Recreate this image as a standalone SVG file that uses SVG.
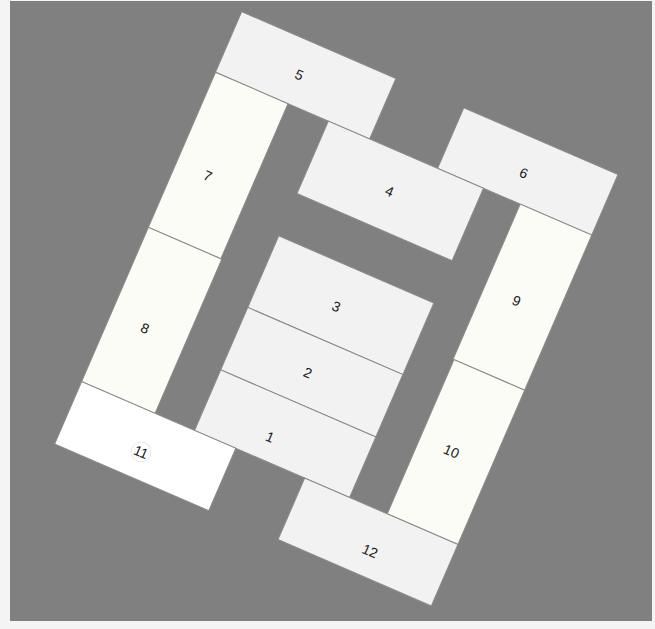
<svg xmlns="http://www.w3.org/2000/svg" width="655" height="629" viewBox="0 0 655 629">
<style>
.r{stroke:#8a8a8a;stroke-width:1}
.g{fill:#f2f2f2}
.c{fill:#fcfcf6}
.w{fill:#ffffff}
text{font-family:"Liberation Sans",Arial,sans-serif;font-size:14px;fill:#1a1a1a;text-anchor:middle;dominant-baseline:central}
</style>
<rect width="655" height="629" fill="#f4f4f4"/>
<rect x="10" y="1" width="642" height="620" fill="#808080"/>
<g transform="translate(241.7,11.7) rotate(23.4)">
  <g id="n5"><rect class="r g" x="0" y="0" width="168" height="66"/><text x="78" y="35">5</text></g>
  <g id="n6"><rect class="r g" x="242" y="0" width="168" height="66"/><text x="323" y="36">6</text></g>
  <g id="n7"><rect class="r c" x="0" y="66" width="79" height="169"/><text x="34" y="164">7</text></g>
  <g id="n8"><rect class="r c" x="0" y="235" width="80" height="168"/><text x="37" y="329">8</text></g>
  <g id="n9"><rect class="r c" x="332" y="66" width="78" height="169"/><text x="367" y="156">9</text></g>
  <g id="n10"><rect class="r c" x="333" y="235" width="77" height="168"/><text x="367" y="320">10</text></g>
  <g id="n4"><rect class="r g" x="123" y="66" width="169" height="79"/><text x="207" y="106">4</text></g>
  <g id="n3"><rect class="r g" x="123" y="191" width="169" height="78"/><text x="204" y="233">3</text></g>
  <g id="n2"><rect class="r g" x="123" y="269" width="169" height="68"/><text x="204" y="305">2</text></g>
  <g id="n1"><rect class="r g" x="123" y="337" width="169" height="66"/><text x="195" y="379">1</text></g>
  <g id="n11"><rect class="r w" x="0" y="403" width="168" height="68"/><circle cx="82.5" cy="444" r="10" fill="none" stroke="#e8e8e8" stroke-width="1"/><text x="82.5" y="444">11</text></g>
  <g id="n12"><rect class="r g" x="243" y="403" width="167" height="67"/><text x="332" y="444">12</text></g>
</g>
</svg>
